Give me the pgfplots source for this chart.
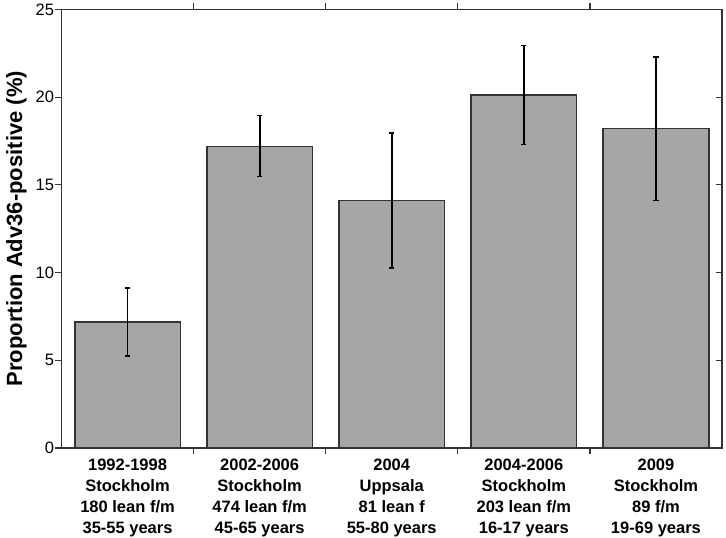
\documentclass[border=0pt]{standalone}
\usepackage{fontspec}
\setmainfont{Liberation Sans}
\usepackage{pgfplots}
\pgfplotsset{compat=1.18}

\definecolor{barfill}{HTML}{A6A6A6}
\definecolor{frame}{HTML}{333333}

\begin{document}
\begin{tikzpicture}
  \begin{axis}[
      scale only axis,
      width=660.5pt, height=438.5pt,
      xmin=-0.5, xmax=4.5,
      ymin=0, ymax=25,
      ytick={0,5,...,25},
      xtick={0,1,2,3,4},
      xticklabels={
        {1992-1998\\Stockholm\\180 lean f/m\\35-55 years},
        {2002-2006\\Stockholm\\474 lean f/m\\45-65 years},
        {2004\\Uppsala\\81 lean f\\55-80 years},
        {2004-2006\\Stockholm\\203 lean f/m\\16-17 years},
        {2009\\Stockholm\\89 f/m\\19-69 years}},
      minor xtick={0.5,1.5,2.5,3.5},
      major x tick style={draw=none},
      minor tick length=6pt,
      major tick length=6pt,
      tick align=center,
      ytick style={xshift=-3pt},
      axis line style={draw=frame, line width=1.6pt},
      tick style={draw=frame, line width=1.2pt},
      xticklabel style={align=center, yshift=-1.5pt,
        font=\bfseries\fontsize{16.5}{21}\selectfont},
      yticklabel style={font=\fontsize{16.5}{19}\selectfont, xshift=-1pt},
      /pgf/number format/assume math mode=true,
      ylabel={Proportion Adv36-positive (\%)},
      every axis y label/.style={at={(axis description cs:0,0.5)},
        xshift=-45pt, rotate=90, anchor=center,
        font=\bfseries\fontsize{22}{26}\selectfont},
      ybar, bar width=0.8, bar shift=0pt,
      clip=false,
    ]
    \addplot[fill=barfill, draw=frame, line width=1.6pt,
      error bars/.cd, y dir=both, y explicit,
      error bar style={black, line width=1.7pt},
      error mark options={black, line width=1.5pt, mark size=2.6pt, rotate=90}]
      coordinates {
        (0, 7.17) += (0,1.94) -= (0,1.92)
        (1,17.18) += (0,1.77) -= (0,1.71)
        (2,14.10) += (0,3.86) -= (0,3.83)
        (3,20.11) += (0,2.84) -= (0,2.80)
        (4,18.22) += (0,4.06) -= (0,4.12)
      };
    \coordinate (sw) at (rel axis cs:0,0);
    \coordinate (ne) at (rel axis cs:1,1);
  \end{axis}
  \pgfresetboundingbox
  \path[use as bounding box] ([shift={(-61.5pt,-90pt)}]sw) rectangle ([shift={(4pt,9.5pt)}]ne);
\end{tikzpicture}
\end{document}
